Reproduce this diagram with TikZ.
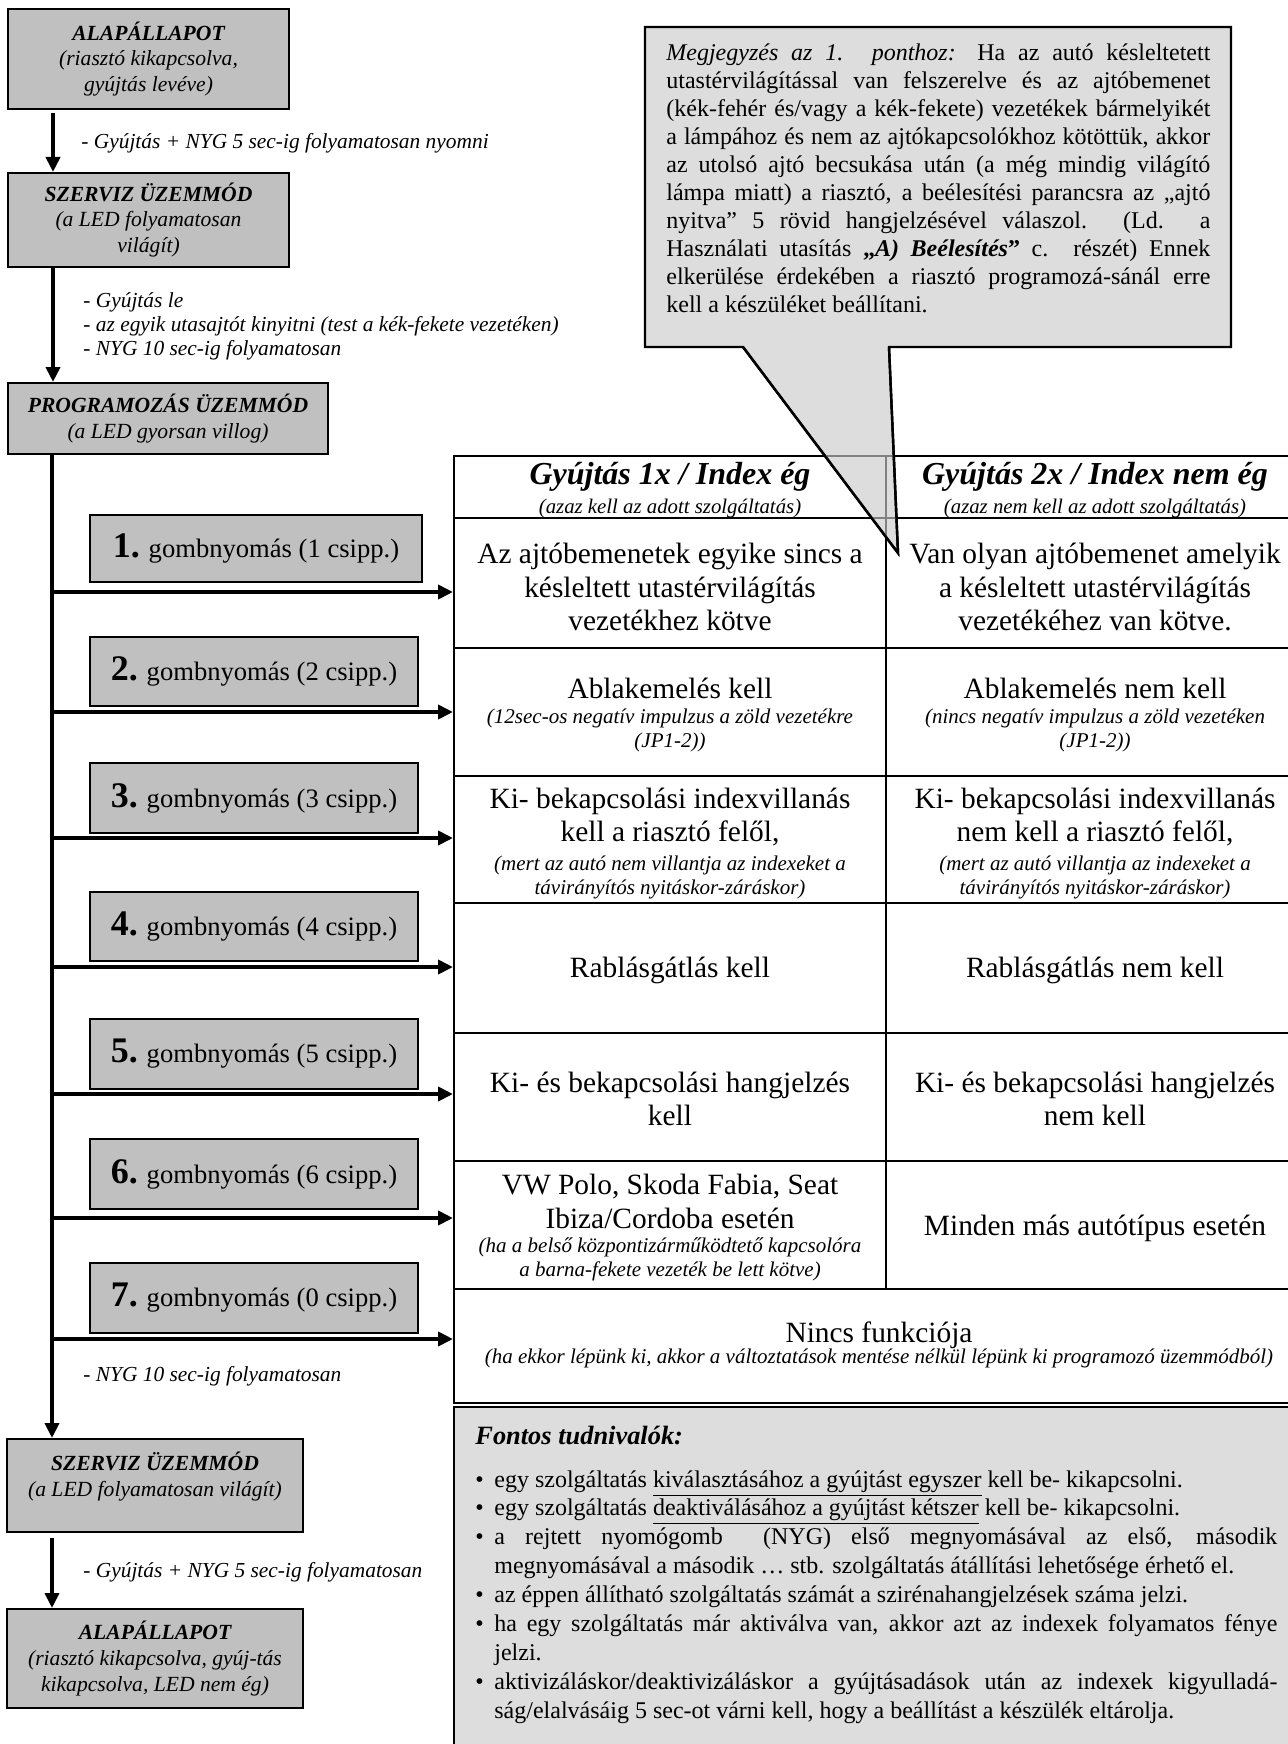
\documentclass[tikz,border=0pt]{standalone}
\usepackage{fontspec}
\setmainfont{Liberation Serif}
\usetikzlibrary{arrows.meta}
\definecolor{boxgray}{HTML}{C0C0C0}
\definecolor{notegray}{HTML}{DDDDDD}
\newcommand\jl[1]{\hbox to\hsize{#1}}
\newcommand\nl[1]{\hbox{#1}}
\newcommand\bul{\makebox[9.5pt][l]{•}}
\newcommand\ind{\hspace*{9.5pt}}
\newcommand\num[1]{{\fontsize{18}{18}\selectfont\bfseries #1}}
\begin{document}
\begin{tikzpicture}[x=0.5pt,y=-0.5pt,
  state/.style={draw,line width=1pt,fill=boxgray,inner sep=0pt,align=center,font=\fontsize{10.8}{12.8}\selectfont\itshape},
  btn/.style={draw,line width=0.8pt,fill=boxgray,inner sep=0pt,font=\fontsize{13.3}{15}\selectfont},
  cell/.style={draw,line width=1pt,inner sep=0pt},
  lbl/.style={anchor=west,inner sep=0pt,align=left,font=\fontsize{10.7}{12}\selectfont\itshape},
  hdr/.style={inner sep=0pt,font=\fontsize{16}{18}\selectfont\bfseries\itshape},
  hsub/.style={inner sep=0pt,font=\fontsize{10.4}{12}\selectfont\itshape},
  ctext/.style={inner sep=0pt,align=center,font=\fontsize{14.7}{16.6}\selectfont},
  csmall/.style={inner sep=0pt,align=center,font=\fontsize{10.5}{12}\selectfont\itshape},
  arr/.style={line width=2pt,-{Triangle[length=7.5pt,width=7pt]}},
]
\useasboundingbox (0,0) rectangle (1287,1744);

% ---------- table ----------
\node[cell,minimum width=216pt,minimum height=31pt] (hA) at (670,487) {};
\node[cell,minimum width=209pt,minimum height=31pt] (hB) at (1095,487) {};
\node[cell,minimum width=216pt,minimum height=65pt] (r1a) at (670,583) {};
\node[cell,minimum width=209pt,minimum height=65pt] (r1b) at (1095,583) {};
\node[cell,minimum width=216pt,minimum height=64pt] (r2a) at (670,712) {};
\node[cell,minimum width=209pt,minimum height=64pt] (r2b) at (1095,712) {};
\node[cell,minimum width=216pt,minimum height=63.5pt] (r3a) at (670,839.5) {};
\node[cell,minimum width=209pt,minimum height=63.5pt] (r3b) at (1095,839.5) {};
\node[cell,minimum width=216pt,minimum height=65pt] (r4a) at (670,968) {};
\node[cell,minimum width=209pt,minimum height=65pt] (r4b) at (1095,968) {};
\node[cell,minimum width=216pt,minimum height=64pt] (r5a) at (670,1097) {};
\node[cell,minimum width=209pt,minimum height=64pt] (r5b) at (1095,1097) {};
\node[cell,minimum width=216pt,minimum height=64pt] (r6a) at (670,1225) {};
\node[cell,minimum width=209pt,minimum height=64pt] (r6b) at (1095,1225) {};
\node[cell,minimum width=425pt,minimum height=57pt] (r7) at (879,1346) {};

% ---------- callout ----------
\draw[line width=1.2pt,fill=notegray] (645,27) -- (1231,27) -- (1231,347) -- (889,347) -- (898,553) -- (743,347) -- (645,347) -- cycle;
\begin{scope}
  \clip (889,347) -- (898,553) -- (743,347) -- cycle;
  \draw[gray,line width=1pt] (454,456) -- (1304,456);
  \draw[gray,line width=1pt] (454,518) -- (1304,518);
  \draw[gray,line width=1pt] (886,456) -- (886,648);
\end{scope}
\draw[line width=1.2pt] (889,347) -- (898,553) -- (743,347);
\node[anchor=base west,inner sep=0pt,font=\fontsize{12}{13.95}\selectfont] (note) at (666,61) {\vtop{\hsize=272pt\relax
\jl{\textit{Megjegyzés az 1. ponthoz:} Ha az autó késleltetett}
\jl{utastérvilágítással van felszerelve és az ajtóbemenet}
\jl{(kék-fehér és/vagy a kék-fekete) vezetékek bármelyikét}
\jl{a lámpához és nem az ajtókapcsolókhoz kötöttük, akkor}
\jl{az utolsó ajtó becsukása után (a még mindig világító}
\jl{lámpa miatt) a riasztó, a beélesítési parancsra az „ajtó}
\jl{nyitva” 5 rövid hangjelzésével válaszol. (Ld. a}
\jl{Használati utasítás \textbf{„\textit{A) Beélesítés}”} c. részét) Ennek}
\jl{elkerülése érdekében a riasztó programozá-sánál erre}
\nl{kell a készüléket beállítani.}}};

% ---------- table texts ----------
\node[hdr] (h1) at (670,477) {Gyújtás 1x / Index ég};
\node[hsub] (h1s) at (670,508) {(azaz kell az adott szolgáltatás)};
\node[hdr] (h2) at (1095,477) {Gyújtás 2x / Index nem ég};
\node[hsub] (h2s) at (1095,508) {(azaz nem kell az adott szolgáltatás)};

\node[ctext] (t11) at (670,587) {Az ajtóbemenetek egyike sincs a\\késleltett utastérvilágítás\\vezetékhez kötve};
\node[ctext] (t12) at (1095,587) {Van olyan ajtóbemenet amelyik\\a késleltett utastérvilágítás\\vezetékéhez van kötve.};
\node[ctext] (t21) at (670,688) {Ablakemelés kell};
\node[csmall] (s21) at (670,730) {(12sec-os negatív impulzus a zöld vezetékre\\(JP1-2))};
\node[ctext] (t22) at (1095,688) {Ablakemelés nem kell};
\node[csmall] (s22) at (1095,730) {(nincs negatív impulzus a zöld vezetéken\\(JP1-2))};
\node[ctext] (t31) at (670,817) {Ki- bekapcsolási indexvillanás\\kell a riasztó felől,};
\node[csmall] (s31) at (670,877.5) {(mert az autó nem villantja az indexeket a\\távirányítós nyitáskor-záráskor)};
\node[ctext] (t32) at (1095,817) {Ki- bekapcsolási indexvillanás\\nem kell a riasztó felől,};
\node[csmall] (s32) at (1095,877.5) {(mert az autó villantja az indexeket a\\távirányítós nyitáskor-záráskor)};
\node[ctext] (t41) at (670,970) {Rablásgátlás kell};
\node[ctext] (t42) at (1095,970) {Rablásgátlás nem kell};
\node[ctext] (t51) at (670,1099) {Ki- és bekapcsolási hangjelzés\\kell};
\node[ctext] (t52) at (1095,1099) {Ki- és bekapcsolási hangjelzés\\nem kell};
\node[ctext] (t61) at (670,1201.5) {VW Polo, Skoda Fabia, Seat\\Ibiza/Cordoba esetén};
\node[csmall] (s61) at (670,1259) {(ha a belső központizárműködtető kapcsolóra\\a barna-fekete vezeték be lett kötve)};
\node[ctext] (t62) at (1095,1228) {Minden más autótípus esetén};
\node[ctext] (t7) at (879,1335) {Nincs funkciója};
\node[csmall] (s7) at (879,1358) {(ha ekkor lépünk ki, akkor a változtatások mentése nélkül lépünk ki programozó üzemmódból)};

% ---------- Fontos box ----------
\node[draw,line width=1pt,fill=notegray,minimum width=433pt,minimum height=176.5pt,inner sep=0pt] (fontos) at (887,1583.5) {};
\node[anchor=base west,inner sep=0pt,font=\fontsize{13.2}{15}\selectfont\bfseries\itshape] (ftitle) at (475,1444) {Fontos tudnivalók:};
\node[anchor=base west,inner sep=0pt,font=\fontsize{12}{14.45}\selectfont] (flist) at (475,1487) {\vtop{\hsize=401pt\relax
\nl{\bul egy szolgáltatás \underline{kiválasztásához a gyújtást egyszer} kell be- kikapcsolni.}
\nl{\bul egy szolgáltatás \underline{deaktiválásához a gyújtást kétszer} kell be- kikapcsolni.}
\jl{\bul a rejtett nyomógomb \ (NYG) első megnyomásával az első, második}
\nl{\ind megnyomásával a második … stb. szolgáltatás átállítási lehetősége érhető el.}
\nl{\bul az éppen állítható szolgáltatás számát a szirénahangjelzések száma jelzi.}
\jl{\bul ha egy szolgáltatás már aktiválva van, akkor azt az indexek folyamatos fénye}
\nl{\ind jelzi.}
\jl{\bul aktivizáláskor/deaktivizáláskor a gyújtásadások után az indexek kigyulladá-}
\nl{\ind ság/elalvásáig 5 sec-ot várni kell, hogy a beállítást a készülék eltárolja.}}};

% ---------- state boxes ----------
\node[state,minimum width=140.5pt,minimum height=50pt] (alap1) at (148.5,59) {\textbf{ALAPÁLLAPOT}\\(riasztó kikapcsolva,\\gyújtás levéve)};
\node[state,minimum width=140.5pt,minimum height=47pt] (sz1) at (148.5,220) {\textbf{SZERVIZ ÜZEMMÓD}\\(a LED folyamatosan\\világít)};
\node[state,minimum width=160pt,minimum height=35.5pt] (prog) at (168,418.5) {\textbf{PROGRAMOZÁS ÜZEMMÓD}\\(a LED gyorsan villog)};
\node[state,minimum width=148pt,minimum height=46.5pt] (sz2) at (155,1485.5) {};
\node[inner sep=0pt,align=center,font=\fontsize{10.8}{12.8}\selectfont\itshape] (sz2t) at (155,1476.5) {\textbf{SZERVIZ ÜZEMMÓD}\\(a LED folyamatosan világít)};
\node[state,minimum width=148pt,minimum height=49.5pt] (alap2) at (155,1658.5) {\textbf{ALAPÁLLAPOT}\\(riasztó kikapcsolva, gyúj-tás\\kikapcsolva, LED nem ég)};

% ---------- buttons ----------
\node[btn,minimum width=166pt,minimum height=33.5pt] (b1) at (256,548.5) {\num{1.} gombnyomás (1 csipp.)};
\node[btn,minimum width=164pt,minimum height=34.5pt] (b2) at (254,671.5) {\num{2.} gombnyomás (2 csipp.)};
\node[btn,minimum width=164pt,minimum height=35pt] (b3) at (254,798) {\num{3.} gombnyomás (3 csipp.)};
\node[btn,minimum width=164pt,minimum height=34.5pt] (b4) at (254,926.5) {\num{4.} gombnyomás (4 csipp.)};
\node[btn,minimum width=164pt,minimum height=35pt] (b5) at (254,1054) {\num{5.} gombnyomás (5 csipp.)};
\node[btn,minimum width=164pt,minimum height=35pt] (b6) at (254,1174) {\num{6.} gombnyomás (6 csipp.)};
\node[btn,minimum width=164pt,minimum height=35pt] (b7) at (254,1298) {\num{7.} gombnyomás (0 csipp.)};

% ---------- labels ----------
\node[lbl] (l1) at (81,143) {- Gyújtás + NYG 5 sec-ig folyamatosan nyomni};
\node[lbl] (l2) at (83,326) {- Gyújtás le\\- az egyik utasajtót kinyitni (test a kék-fekete vezetéken)\\- NYG 10 sec-ig folyamatosan};
\node[lbl] (l3) at (83,1376) {- NYG 10 sec-ig folyamatosan};
\node[lbl] (l4) at (83,1572) {- Gyújtás + NYG 5 sec-ig folyamatosan};

% ---------- connectors ----------
\coordinate (ax) at (53,0);
\coordinate (sx) at (52,0);
\draw[arr,shorten <=1.5pt] (alap1.south -| ax) -- (sz1.north -| ax);
\draw[arr] (sz1.south -| ax) -- (prog.north -| ax);
\draw[arr] (prog.south -| sx) -- (sz2.north -| sx);
\draw[arr,shorten <=2.5pt] (sz2.south -| sx) -- (alap2.north -| sx);
\foreach \i/\yy in {1/592,2/712,3/838,4/967,5/1094,6/1218,7/1339}{
  \coordinate (br\i) at (52,\yy);
  \draw[arr] (br\i) -- (br\i -| hA.west);
}
\end{tikzpicture}
\end{document}
